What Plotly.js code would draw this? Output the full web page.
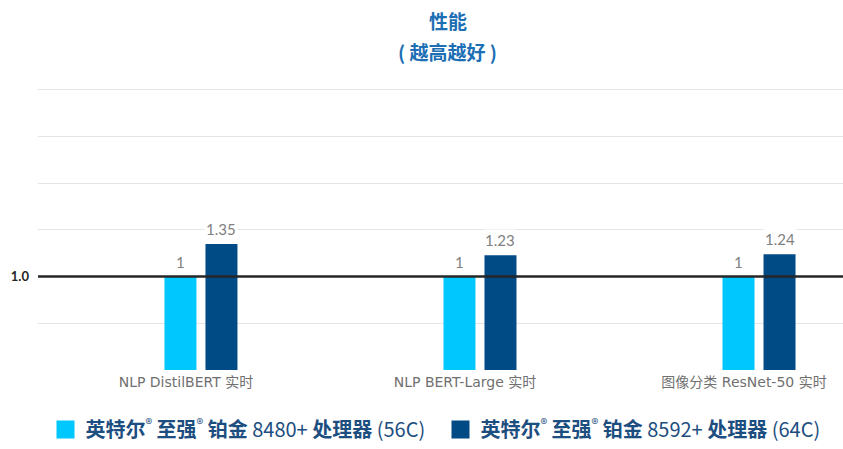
<!DOCTYPE html>
<html><head><meta charset="utf-8">
<script src="https://cdn.plot.ly/plotly-3.0.1.min.js"></script>
<style>html,body{margin:0;padding:0;background:#fff;}#chart{width:843px;height:449px;}</style>
</head><body><div id="chart"></div>
<script>
const categories = ['NLP DistilBERT 实时', 'NLP BERT-Large 实时', '图像分类 ResNet-50 实时'];
const seriesNames = [
  '<b>英特尔</b><sup>®</sup> <b>至强</b><sup>®</sup> <b>铂金</b> 8480+ <b>处理器</b> (56C)',
  '<b>英特尔</b><sup>®</sup> <b>至强</b><sup>®</sup> <b>铂金</b> 8592+ <b>处理器</b> (64C)'
];
const base8480 = [1, 1, 1];
const perf8592 = [1.35, 1.23, 1.24];
const yTicks = [0, 0.5, 1, 1.5, 2, 2.5, 3];
const yTickText = ['', '', '1.0', '', '', '', ''];
const colors = ['#00c7fd', '#004a86'];

const series = [base8480, perf8592];
const traces = [];
series.forEach((vals, i) => {
  traces.push({type: 'bar', x: categories, y: vals, marker: {color: colors[i]}, showlegend: false, hoverinfo: 'skip', offsetgroup: String(i)});
});
series.forEach((vals, i) => {
  traces.push({type: 'scatter', mode: 'markers', x: [null], y: [null], name: seriesNames[i],
    marker: {symbol: 'square', size: 16, color: colors[i], line: {color: colors[i], width: 2}}, showlegend: true});
});

const annotations = [];
series.forEach((vals, i) => {
  vals.forEach((v, j) => {
    annotations.push({x: j, y: v, xref: 'x', yref: 'y', text: String(v), showarrow: false,
      xshift: (i === 0 ? -20.5 : 20.5), yshift: 4, yanchor: 'bottom', bgcolor: '#ffffff', borderpad: 1,
      font: {family: 'Lato, "Noto Sans CJK SC", sans-serif', size: 15, color: '#808080'}});
  });
});
annotations.push({xref: 'paper', yref: 'paper', x: 0.509, y: 1.241, text: '<b>性能</b>', showarrow: false,
  font: {family: '"Noto Sans CJK SC", sans-serif', size: 19, color: '#1c6fb4'}, yanchor: 'middle'});
annotations.push({xref: 'paper', yref: 'paper', x: 0.509, y: 1.128, text: '<b>( 越高越好 )</b>', showarrow: false,
  font: {family: '"Noto Sans CJK SC", sans-serif', size: 19, color: '#1c6fb4'}, yanchor: 'middle'});

const layout = {
  width: 843, height: 449,
  margin: {l: 38, r: 0, t: 88, b: 79},
  paper_bgcolor: '#fff', plot_bgcolor: '#fff',
  barmode: 'group', bargap: 0.706, bargroupgap: 0.22,
  xaxis: {type: 'category', range: [-0.584, 2.301], showgrid: false, zeroline: false, showline: false,
    ticks: '', ticklabelshift: -15, ticklabelstandoff: 2,
    tickfont: {family: '"DejaVu Sans", "Noto Sans CJK SC", sans-serif', size: 14, color: '#707070'}},
  yaxis: {range: [0, 3.02], tickvals: yTicks, ticktext: yTickText, showgrid: true, gridcolor: '#e4e4e4', gridwidth: 1,
    zeroline: false, showline: false, ticks: '', ticklabelstandoff: 8,
    tickfont: {family: 'Lato, sans-serif', size: 13, color: '#262626', weight: 'bold'}},
  shapes: [{type: 'line', xref: 'paper', yref: 'y', x0: 0, x1: 1, y0: 1, y1: 1, line: {color: '#262626', width: 2.5}, layer: 'above'}],
  annotations: annotations,
  legend: {orientation: 'h', x: 0.5, xanchor: 'center', xref: 'paper', yref: 'container', y: -0.012, yanchor: 'bottom',
    font: {family: '"Noto Sans CJK SC", sans-serif', size: 20, color: '#1d4e80'}, itemwidth: 30,
    traceorder: 'normal', entrywidth: 350},
  showlegend: true
};
Plotly.newPlot('chart', traces, layout, {displayModeBar: false, staticPlot: true});
</script></body></html>
